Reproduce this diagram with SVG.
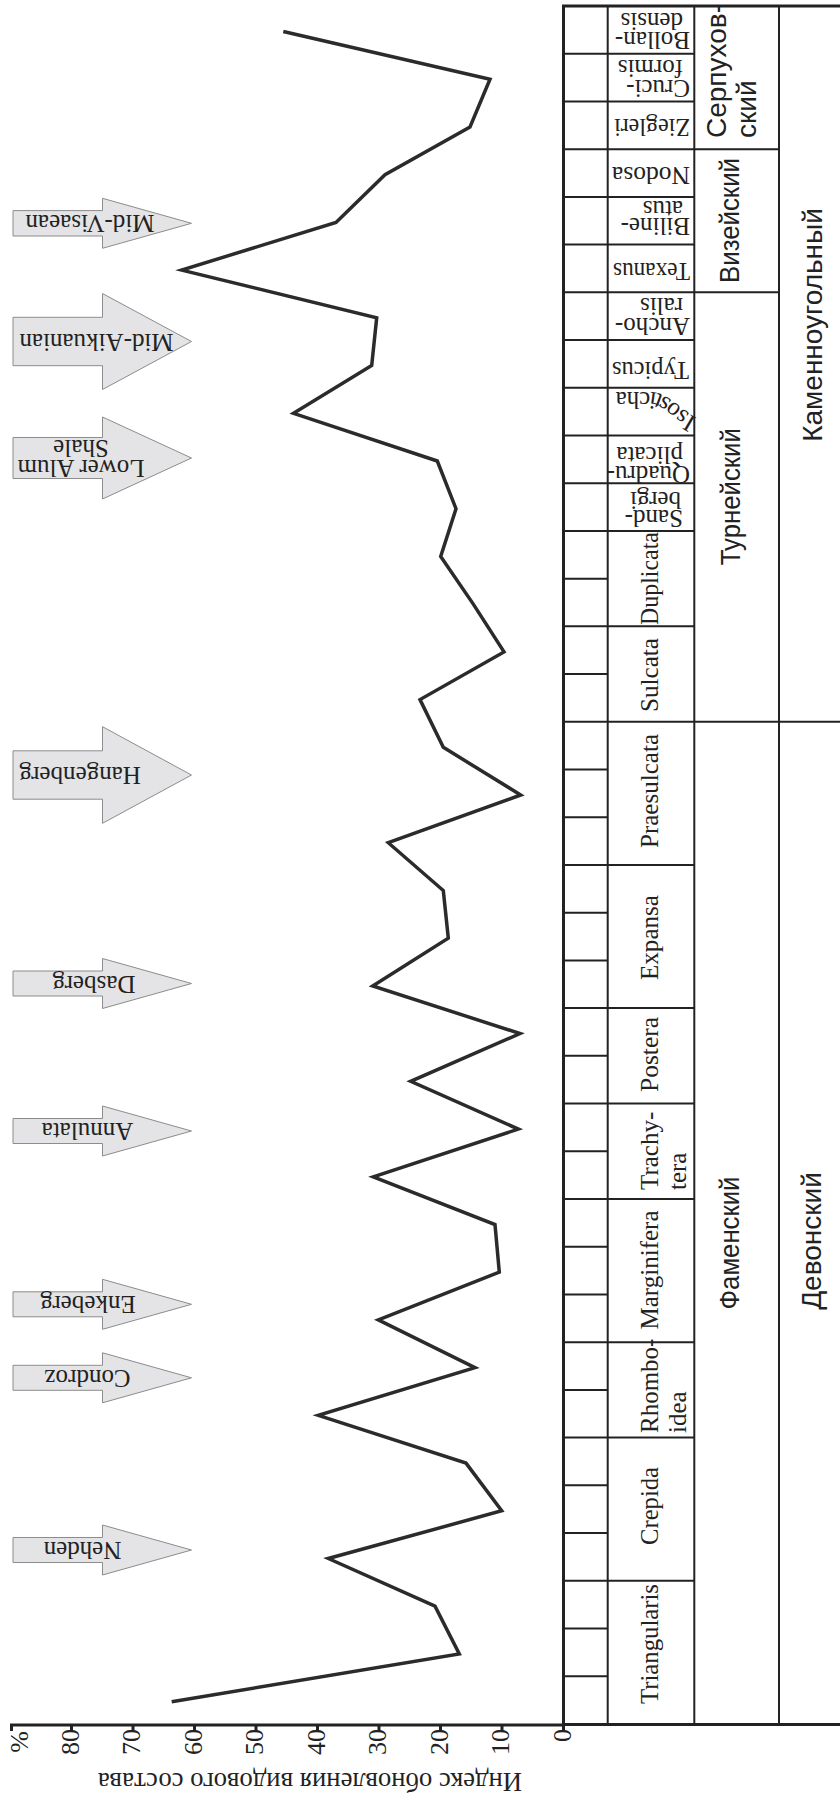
<svg xmlns="http://www.w3.org/2000/svg" width="840" height="1795" viewBox="0 0 840 1795">
<style>
.ln{stroke:#222;stroke-width:2;fill:none}
.thk{stroke:#222;stroke-width:3;fill:none}
.curve{stroke:#2b2b2b;stroke-width:3.5;fill:none;stroke-linejoin:miter}
.arrow{fill:#e4e4e6;stroke:#8c8c8c;stroke-width:1}
.ser{font-family:"Liberation Serif","Times New Roman",serif;font-size:25px;fill:#222}
.zl{font-family:"Liberation Serif","Times New Roman",serif;font-size:26px;fill:#222}
.sans{font-family:"Liberation Sans",Arial,sans-serif;font-size:28px;fill:#222}
.ttl{font-family:"Liberation Serif","Times New Roman",serif;font-size:28px;fill:#222}
</style>
<defs>
<path id="isoPath" d="M 697 418 C 680 409.5 668 392 650 392 L 596 392"/>
</defs>
<rect width="840" height="1795" fill="#ffffff"/>

<g id="table">
<path class="ln" d="M607.7 6V1724 M694.3 6V1724 M779 6V1724"/>
<path class="ln" d="M563.5 53.72H607.7 M563.5 101.44H607.7 M563.5 149.16H607.7 M563.5 196.88H607.7 M563.5 244.6H607.7 M563.5 292.32H607.7 M563.5 340.04H607.7 M563.5 387.76H607.7 M563.5 435.48H607.7 M563.5 483.2H607.7 M563.5 530.92H607.7 M563.5 578.64H607.7 M563.5 626.36H607.7 M563.5 674.08H607.7 M563.5 769.52H607.7 M563.5 817.24H607.7 M563.5 864.96H607.7 M563.5 912.68H607.7 M563.5 960.4H607.7 M563.5 1008.12H607.7 M563.5 1055.84H607.7 M563.5 1103.56H607.7 M563.5 1151.28H607.7 M563.5 1199H607.7 M563.5 1246.72H607.7 M563.5 1294.44H607.7 M563.5 1342.16H607.7 M563.5 1389.88H607.7 M563.5 1437.6H607.7 M563.5 1485.32H607.7 M563.5 1533.04H607.7 M563.5 1580.76H607.7 M563.5 1628.48H607.7 M563.5 1676.2H607.7"/>
<path class="ln" d="M607.7 53.72H694.3 M607.7 101.44H694.3 M607.7 149.16H779 M607.7 196.88H694.3 M607.7 244.6H694.3 M607.7 292.32H779 M607.7 340.04H694.3 M607.7 387.76H694.3 M607.7 435.48H694.3 M607.7 483.2H694.3 M607.7 530.92H694.3 M607.7 626.36H694.3 M607.7 864.96H694.3 M607.7 1008.12H694.3 M607.7 1103.56H694.3 M607.7 1199H694.3 M607.7 1342.16H694.3 M607.7 1437.6H694.3 M607.7 1580.76H694.3"/>
<path class="ln" d="M563.5 721.8H840"/>
<path class="thk" d="M563.5 6V1725 M562 6H840 M562 1724.5H840"/>
</g>

<g id="zones">
<text class="ser" transform="rotate(180 690 31.7)" x="690" y="31.7">Bollan-</text>
<text class="ser" transform="rotate(180 683 13.3)" x="683" y="13.3">densis</text>
<text class="ser" transform="rotate(180 690 80)" x="690" y="80">Cruci-</text>
<text class="ser" transform="rotate(180 683 60)" x="683" y="60">formis</text>
<text class="zl" transform="rotate(180 690 118.5)" x="690" y="118.5" textLength="76" lengthAdjust="spacingAndGlyphs">Ziegleri</text>
<text class="zl" transform="rotate(180 690 166.7)" x="690" y="166.7" textLength="78" lengthAdjust="spacingAndGlyphs">Nodosa</text>
<text class="ser" transform="rotate(180 690 218)" x="690" y="218">Biline-</text>
<text class="ser" transform="rotate(180 683 201)" x="683" y="201">atus</text>
<text class="zl" transform="rotate(180 690 263.3)" x="690" y="263.3" textLength="77" lengthAdjust="spacingAndGlyphs">Texanus</text>
<text class="ser" transform="rotate(180 690 318.3)" x="690" y="318.3">Ancho-</text>
<text class="ser" transform="rotate(180 683 298.3)" x="683" y="298.3">ralis</text>
<text class="zl" transform="rotate(180 689 361.7)" x="689" y="361.7" textLength="77" lengthAdjust="spacingAndGlyphs">Typicus</text>
<text class="ser"><textPath href="#isoPath">Isosticha</textPath></text>
<text class="ser" transform="rotate(180 690 466)" x="690" y="466">Quadru-</text>
<text class="ser" transform="rotate(180 683 447)" x="683" y="447">plicata</text>
<text class="ser" transform="rotate(180 683 510)" x="683" y="510">Sand-</text>
<text class="ser" transform="rotate(180 681 491.5)" x="681" y="491.5">bergi</text>
<text class="zl" transform="rotate(-90 658 578.5)" x="658" y="578.5" text-anchor="middle" textLength="93" lengthAdjust="spacingAndGlyphs">Duplicata</text>
<text class="zl" transform="rotate(-90 658 675)" x="658" y="675" text-anchor="middle" textLength="74" lengthAdjust="spacingAndGlyphs">Sulcata</text>
<text class="zl" transform="rotate(-90 658 791)" x="658" y="791" text-anchor="middle" textLength="114" lengthAdjust="spacingAndGlyphs">Praesulcata</text>
<text class="zl" transform="rotate(-90 658 937.5)" x="658" y="937.5" text-anchor="middle" textLength="85" lengthAdjust="spacingAndGlyphs">Expansa</text>
<text class="zl" transform="rotate(-90 658 1054.5)" x="658" y="1054.5" text-anchor="middle" textLength="75" lengthAdjust="spacingAndGlyphs">Postera</text>
<text class="ser" transform="rotate(-90 658 1190)" x="658" y="1190">Trachy-</text>
<text class="ser" transform="rotate(-90 686 1190)" x="686" y="1190">tera</text>
<text class="zl" transform="rotate(-90 658 1270)" x="658" y="1270" text-anchor="middle" textLength="119" lengthAdjust="spacingAndGlyphs">Marginifera</text>
<text class="ser" transform="rotate(-90 658 1433)" x="658" y="1433">Rhombo-</text>
<text class="ser" transform="rotate(-90 686 1433)" x="686" y="1433">idea</text>
<text class="zl" transform="rotate(-90 658 1506)" x="658" y="1506" text-anchor="middle" textLength="78" lengthAdjust="spacingAndGlyphs">Crepida</text>
<text class="zl" transform="rotate(-90 658 1644)" x="658" y="1644" text-anchor="middle" textLength="120" lengthAdjust="spacingAndGlyphs">Triangularis</text>
</g>

<g id="stages">
<text class="sans" transform="rotate(-90 726 138)" x="726" y="138">Серпухов-</text>
<text class="sans" transform="rotate(-90 756 138)" x="756" y="138">ский</text>
<text class="sans" transform="rotate(-90 738.5 220.5)" x="738.5" y="220.5" text-anchor="middle" textLength="125" lengthAdjust="spacingAndGlyphs">Визейский</text>
<text class="sans" transform="rotate(-90 740 496.7)" x="740" y="496.7" text-anchor="middle" textLength="137" lengthAdjust="spacingAndGlyphs">Турнейский</text>
<text class="sans" transform="rotate(-90 739 1243)" x="739" y="1243" text-anchor="middle" textLength="133" lengthAdjust="spacingAndGlyphs">Фаменский</text>
</g>

<g id="systems">
<text class="sans" transform="rotate(-90 821.5 325)" x="821.5" y="325" text-anchor="middle">Каменноугольный</text>
<text class="sans" transform="rotate(-90 821 1241)" x="821" y="1241" text-anchor="middle">Девонский</text>
</g>

<g id="arrows">
<g id="arrow-mid-visaean">
<path class="arrow" d="M13 210.6H102.5V198.3L191.5 223.3L102.5 248.3V236H13Z"/>
<text class="ser" transform="rotate(180 90 223.3)" x="90" y="231.3" text-anchor="middle">Mid-Visaean</text>
</g>
<g id="arrow-mid-aikuanian">
<path class="arrow" d="M13 317.3H102.5V293.5L191.5 341.5L102.5 389.5V365.7H13Z"/>
<text class="ser" transform="rotate(180 96.5 341.5)" x="96.5" y="349.5" text-anchor="middle">Mid-Aikuanian</text>
</g>
<g id="arrow-lower-alum">
<path class="arrow" d="M13 437.5H102.5V417L191.5 458L102.5 499V478.5H13Z"/>
<text class="ser" transform="rotate(180 81 458)" x="81" y="456" text-anchor="middle">Lower Alum</text>
<text class="ser" transform="rotate(180 81 458)" x="81" y="476" text-anchor="middle">Shale</text>
</g>
<g id="arrow-hangenberg">
<path class="arrow" d="M13 750.8H102.5V726.7L191.5 775L102.5 823.3V799.2H13Z"/>
<text class="ser" transform="rotate(180 80 775)" x="80" y="783" text-anchor="middle">Hangenberg</text>
</g>
<g id="arrow-dasberg">
<path class="arrow" d="M13 971H102.5V958.5L191.5 983.5L102.5 1008.5V996H13Z"/>
<text class="ser" transform="rotate(180 94 983.5)" x="94" y="991.5" text-anchor="middle">Dasberg</text>
</g>
<g id="arrow-annulata">
<path class="arrow" d="M13 1118.5H102.5V1106L191.5 1131L102.5 1156V1143.5H13Z"/>
<text class="ser" transform="rotate(180 87.5 1131)" x="87.5" y="1139" text-anchor="middle">Annulata</text>
</g>
<g id="arrow-enkeberg">
<path class="arrow" d="M13 1291.8H102.5V1279.3L191.5 1304.3L102.5 1329.3V1316.8H13Z"/>
<text class="ser" transform="rotate(180 88 1304.3)" x="88" y="1312.3" text-anchor="middle">Enkeberg</text>
</g>
<g id="arrow-condroz">
<path class="arrow" d="M13 1365.3H102.5V1352.8L191.5 1377.8L102.5 1402.8V1390.3H13Z"/>
<text class="ser" transform="rotate(180 87.5 1377.8)" x="87.5" y="1385.8" text-anchor="middle">Condroz</text>
</g>
<g id="arrow-nehden">
<path class="arrow" d="M13 1537.5H102.5V1525L191.5 1550L102.5 1575V1562.5H13Z"/>
<text class="ser" transform="rotate(180 82.5 1550)" x="82.5" y="1558" text-anchor="middle">Nehden</text>
</g>
</g>

<g id="curve">
<polyline class="curve" points="283.3,31.5 490,79.2 470,127 385,174.7 336,222.4 181.7,270.1 376.7,317.8 371.7,365.5 293.5,413.3 437.3,461 456,508.7 440.7,556.4 473.3,604.1 504,651.9 420,699.6 443.3,747.3 520.7,795 388.3,842.7 443.3,890.5 448.3,938.2 372.7,985.9 520,1033.6 410.7,1081.3 518.3,1129.1 373.3,1176.8 495,1224.5 499.3,1272.2 378.3,1319.9 475,1367.7 318.3,1415.4 466,1463.1 501.7,1510.8 328.3,1558.5 435,1606.2 459.3,1654 171.7,1701.7"/>
</g>

<g id="axis">
<path class="thk" d="M10 1725H565"/>
<path class="thk" d="M563.5 1725V1731 M502.0 1725V1731 M440.5 1725V1731 M379.0 1725V1731 M317.5 1725V1731 M256.0 1725V1731 M194.5 1725V1731 M133.0 1725V1731 M71.5 1725V1731 M11.5 1725V1731"/>
<text class="zl" transform="rotate(-90 570.5 1729)" x="570.5" y="1729" text-anchor="end">0</text>
<text class="zl" transform="rotate(-90 509 1729)" x="509" y="1729" text-anchor="end">10</text>
<text class="zl" transform="rotate(-90 447.5 1729)" x="447.5" y="1729" text-anchor="end">20</text>
<text class="zl" transform="rotate(-90 386 1729)" x="386" y="1729" text-anchor="end">30</text>
<text class="zl" transform="rotate(-90 324.5 1729)" x="324.5" y="1729" text-anchor="end">40</text>
<text class="zl" transform="rotate(-90 263 1729)" x="263" y="1729" text-anchor="end">50</text>
<text class="zl" transform="rotate(-90 201.5 1729)" x="201.5" y="1729" text-anchor="end">60</text>
<text class="zl" transform="rotate(-90 140 1729)" x="140" y="1729" text-anchor="end">70</text>
<text class="zl" transform="rotate(-90 78.5 1729)" x="78.5" y="1729" text-anchor="end">80</text>
<text class="zl" transform="rotate(-90 28 1731)" x="28" y="1731" text-anchor="end">%</text>
<text class="ttl" transform="rotate(180 522 1772.5)" x="522" y="1772.5" textLength="424" lengthAdjust="spacingAndGlyphs">Индекс обновления видового состава</text>
</g>
</svg>
